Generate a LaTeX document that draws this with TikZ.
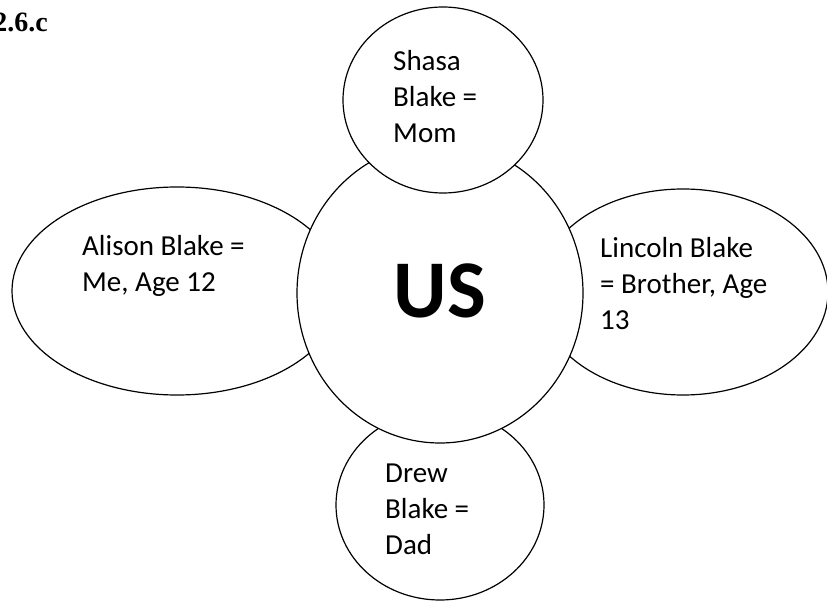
\documentclass[tikz,border=0pt]{standalone}
\usepackage{fontspec}
\setmainfont{Carlito}
\newfontfamily\titlefont{Liberation Serif}
\usetikzlibrary{shapes.geometric, positioning}

\tikzset{
  bubble/.style={ellipse, draw=black, fill=white,
    line width=1.2pt, inner sep=0pt},
  nametext/.style={anchor=base west, align=left, inner sep=0pt,
    font=\fontsize{29}{36}\selectfont},
  hubtext/.style={inner sep=0pt, font=\fontsize{82}{90}\selectfont\bfseries},
  titletext/.style={anchor=base east, inner sep=0pt,
    font=\titlefont\fontsize{28}{34}\selectfont\bfseries}
}

\begin{document}
\begin{tikzpicture}[x=1pt, y=-1pt]
  \useasboundingbox (0,0) rectangle (827,601);
  \node[titletext] (title) at (48,32) {2.6.c};

  % the four around, then the middle one
  \node[bubble, minimum width=330pt, minimum height=208pt] (alison)  at (177,291) {};
  \node[bubble, minimum width=290pt, minimum height=206pt] (lincoln) at (683,292) {};
  \node[bubble, minimum width=208pt, minimum height=190pt] (drew)    at (440,505) {};
  \node[bubble, minimum width=286pt, minimum height=300pt] (us)      at (440,293) {};
  \node[bubble, minimum width=200pt, minimum height=186pt] (shasa)   at (443,100) {};

  % base of a text is its last line
  \node[hubtext] (ustext) at (440,291) {US};
  \node[nametext] (shasatext)   at (393,143) {Shasa\\Blake =\\Mom};
  \node[nametext] (alisontext)  at (82,292)  {Alison Blake =\\Me, Age 12};
  \node[nametext] (lincolntext) at (600,330) {Lincoln Blake\\= Brother, Age\\13};
  \node[nametext] (drewtext)    at (385,554) {Drew\\Blake =\\Dad};
\end{tikzpicture}
\end{document}
